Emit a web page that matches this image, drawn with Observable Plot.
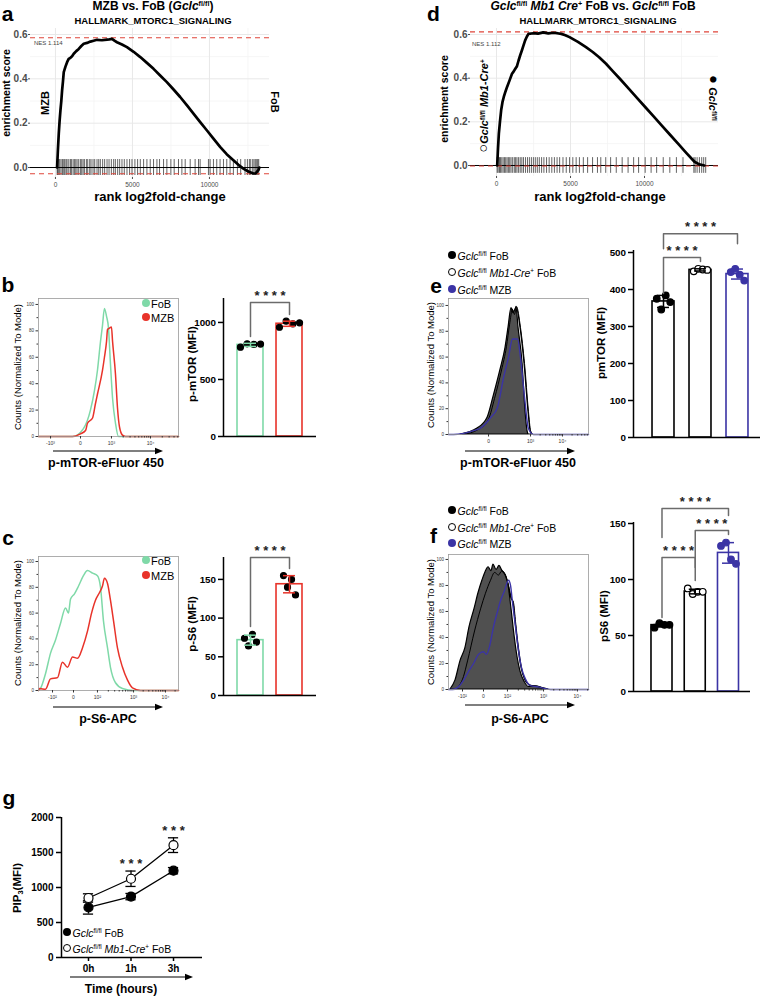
<!DOCTYPE html>
<html>
<head>
<meta charset="utf-8">
<script src="https://cdn.jsdelivr.net/npm/d3@7"></script>
<script src="https://cdn.jsdelivr.net/npm/@observablehq/plot@0.6"></script>
<style>
html,body{margin:0;padding:0;background:#fff;}
#fig{position:relative;width:763px;height:996px;overflow:hidden;background:#fff;font-family:"Liberation Sans",Arial,Helvetica,sans-serif;}
.t{position:absolute;white-space:nowrap;line-height:1;color:#000;}
.t sup{font-size:0.6em;vertical-align:baseline;position:relative;top:-0.5em;line-height:0;}
.t sub{font-size:0.65em;vertical-align:baseline;position:relative;top:0.3em;line-height:0;}
.t .big{font-size:1.35em;line-height:0;font-weight:400;}
.sw{position:absolute;border-radius:50%;box-sizing:border-box;}
svg.pl{position:absolute;overflow:visible;}
</style>
</head>
<body>
<div id="fig"></div>
<script>
// ================= DATA =================
// Panel a : GSEA MZB vs FoB
const gseaA_rank = [108,160,216,270,324,380,432,490,540,650,756,860,972,1080,1188,1350,1512,1680,1836,2050,2268,2480,2700,3020,3348,3500,3672,3830,3996,4320,4644,5076,5508,5940,6371,6800,7235,7670,8099,8530,8963,9400,9827,10260,10691,11120,11555,11880,12203,12530,12851,13000,13175,13240];
const gseaA_es   = [0,0.08,0.153,0.21,0.258,0.3,0.348,0.39,0.43,0.455,0.475,0.49,0.495,0.502,0.513,0.525,0.535,0.548,0.558,0.562,0.568,0.572,0.576,0.574,0.577,0.578,0.58,0.572,0.565,0.555,0.543,0.522,0.498,0.472,0.445,0.415,0.385,0.352,0.318,0.281,0.243,0.205,0.168,0.13,0.093,0.06,0.033,0.012,-0.005,-0.018,-0.027,-0.026,-0.012,0];
const gseaA_hits = [110,150,215,280,365,455,540,605,690,755,865,970,1035,1145,1230,1320,1405,1510,1620,1705,1795,1880,2010,2095,2225,2310,2440,2550,2700,2810,2915,3065,3195,3350,3480,3630,3780,3890,4040,4170,4320,4470,4645,4815,4970,5160,5335,5510,5725,5940,6155,6370,6590,6760,7020,7235,7495,7710,7990,8210,8425,8750,9070,9290,9395,9935,10045,10260,10475,10690,10910,11125,11340,11555,11815,12030,12310,12465,12595,12680,12810,12895,12980,13070,13135,13200];
const gseaA_esMax = 0.585, gseaA_esMin = -0.028, gseaA_nes = "NES 1.114";
// Panel d : GSEA Mb1-Cre FoB vs FoB
const gseaD_rank = [44,100,156,230,311,400,489,600,711,880,1044,1150,1267,1380,1489,1600,1711,1822,1933,2045,2156,2489,2800,3156,3500,3822,4100,4378,4650,4933,5500,6044,6500,6933,7400,7822,8380,8933,9490,10044,10600,11156,11710,12267,12820,13378,13700,14044];
const gseaD_es   = [0,0.08,0.146,0.2,0.253,0.29,0.314,0.338,0.36,0.39,0.42,0.43,0.443,0.455,0.481,0.505,0.527,0.55,0.573,0.59,0.603,0.606,0.604,0.61,0.605,0.608,0.606,0.603,0.597,0.588,0.566,0.542,0.52,0.496,0.466,0.435,0.394,0.352,0.31,0.268,0.226,0.184,0.142,0.1,0.058,0.017,0.005,0];
const gseaD_hits = [44,110,200,265,355,445,535,620,710,800,890,980,1090,1200,1290,1380,1490,1600,1710,1820,1955,2090,2220,2355,2490,2620,2755,2890,3045,3200,3380,3555,3735,3910,4090,4265,4490,4710,4935,5155,5380,5600,5865,6155,6490,6820,7045,7380,7710,8090,8490,8890,9265,9600,10045,10445,10820,11265,11710,12155,12600,13335,13420,13555,13710,13865,14000,14135];
const gseaD_esMax = 0.612, gseaD_esMin = -0.002, gseaD_nes = "NES 1.112";
const gseaXTicks = [0, 5000, 10000];
const gseaYTicks = [0, 0.2, 0.4, 0.6];

// Histograms (x = display channel 0..1000, y = % of mode)
const histB_FoB_ch = [0,243,321,371,400,421,443,457,471,486,500,514,529,550,571,1000];
const histB_FoB    = [0,0,6,20,35,50,72,84,97,91,82,55,29,10,0,0];
const histB_MZB_ch = [0,243,300,336,350,386,407,421,457,471,486,493,507,521,529,550,564,579,600,621,1000];
const histB_MZB    = [0,0,2,4.5,10,14,25,32,50,60,72,81,82,83,72,47,22,7,1,0,0];
const histB_ticks  = [86,300,521,800];
const histB_labels = ["-10³","0","10³","10⁴"];

const histC_FoB_ch = [0,14,50,86,121,157,193,214,229,257,286,321,350,386,421,443,464,493,514,550,600,679,1000];
const histC_FoB    = [0,1.5,13,29,39,52,64,60,71,75,81,89,93,91,89,80,54,33,18,6,1.5,0,0];
const histC_MZB_ch = [0,7,50,86,136,171,207,243,279,314,350,379,407,436,457,471,493,514,536,564,600,636,671,729,1000];
const histC_MZB    = [0,1.5,1,9,10,22,18,26,25,33,46,60,70,76,81,87,83,70,54,33,18,8,2,0,0];
const histC_ticks  = [100,250,421,679,907];
const histC_labels = ["-10²","0","10²","10³","10⁴"];

const histE_FoB_ch = [86,207,279,321,371,407,429,450,464,486,500,529,550,564,571];
const histE_FoB    = [0,4.6,13,29,50,67,83,98,94,98,83,55,18,3,0];
const histE_Mb1_ch = [100,214,286,329,379,414,436,457,471,486,514,543,571,586,600];
const histE_Mb1    = [0,4,12,28,50,68,85,97,93,99,83,55,18,3,0];
const histE_MZB_ch = [0,36,179,229,300,350,393,429,457,493,514,543,571,607,1000];
const histE_MZB    = [0,0,3,5,13,21,44,60,74,74,60,29,4.6,0,0];
const histE_ticks  = [286,586,814];
const histE_labels = ["0","10³","10⁴"];

const histF_FoB_ch = [14,50,86,121,150,186,214,243,264,286,307,321,343,364,386,407,429,450,471,493,514,543,571,621,671,714];
const histF_FoB    = [0,7,22,32,48,62,74,84,90,94,91,96,92,95,91,88,80,62,42,25,14,6,2,2.5,1,0];
const histF_Mb1_ch = [50,107,136,186,229,264,300,329,357,379,407,429,450,464,479,500,521,550,586,643,693];
const histF_Mb1    = [0,10,22,45,62,74,84,90,88,91,88,80,70,67,52,32,17,7,3,2,0];
const histF_MZB_ch = [0,29,71,107,143,179,214,250,271,293,321,350,371,400,429,443,457,479,500,521,550,586,643,729,1000];
const histF_MZB    = [0,0,2,7,14,20,27,29,27,33,48,60,68,76,84,80,67,48,30,17,8,3,2,0,0];
const histF_ticks  = [100,250,421,679,921];
const histF_labels = ["-10²","0","10²","10³","10⁴"];

// Bar charts (MFI per mouse)
const pmtorB_FoB = [783,813,807,810];
const pmtorB_MZB = [958,1011,988,997];
const ps6C_FoB   = [74,64,79,69];
const ps6C_MZB   = [155,140,150,130];
const pmtorE_FoB = [375,346,384,366];
const pmtorE_Mb1 = [449,456,454,453];
const pmtorE_MZB = [447,456,440,424];
const ps6F_FoB   = [57,61,59.5,59.5];
const ps6F_Mb1   = [92,87,89,89];
const ps6F_MZB   = [130,133,118,114];

// Panel g : PIP3 time course
const gTimes    = ["0h","1h","3h"];
const pip3_FoB  = [715,870,1240];
const pip3_FoB_sd = [95,45,45];
const pip3_Mb1  = [850,1125,1605];
const pip3_Mb1_sd = [60,110,105];

// ================= STYLE / HELPERS =================
const FONT = '"Liberation Sans", Arial, Helvetica, sans-serif';
const GREEN = "#7fd9a8", RED = "#e8332a", BLUE = "#3b34a5", GRAY = "#505050", DASH = "#e0453a";
const fig = document.getElementById("fig");
const G = '<i>Gclc</i><sup>fl/fl</sup>';

function place(svg, left, top){ svg.classList.add("pl"); svg.style.left = left+"px"; svg.style.top = top+"px"; fig.appendChild(svg); return svg; }
function T(html, x, y, o = {}){
  const d = document.createElement("div"); d.className = "t"; d.innerHTML = html;
  d.style.fontSize = (o.size || 10) + "px";
  d.style.fontWeight = (o.weight != null ? o.weight : 700);
  if (o.color) d.style.color = o.color;
  const ax = o.anchor === "start" ? "0%" : o.anchor === "end" ? "-100%" : "-50%";
  d.style.left = x + "px"; d.style.top = y + "px";
  d.style.transform = `translate(${ax},-50%) rotate(${o.rot || 0}deg)`;
  fig.appendChild(d); return d;
}
function swatch(cx, cy, r, fill, stroke){
  const d = document.createElement("div"); d.className = "sw";
  d.style.left = (cx-r)+"px"; d.style.top = (cy-r)+"px"; d.style.width = 2*r+"px"; d.style.height = 2*r+"px";
  d.style.background = fill; if (stroke) d.style.border = `1.3px solid ${stroke}`;
  fig.appendChild(d);
}
function arrow(x1, x2, y){
  const ns = "http://www.w3.org/2000/svg"; const s = document.createElementNS(ns, "svg");
  const w = x2 - x1; s.setAttribute("width", w+2); s.setAttribute("height", 8);
  s.style.position = "absolute"; s.style.left = x1+"px"; s.style.top = (y-4)+"px";
  s.innerHTML = `<line x1="0" y1="4" x2="${w-6}" y2="4" stroke="#000" stroke-width="1.1"/><path d="M${w-8},0.8 L${w},4 L${w-8},7.2 Z" fill="#000"/>`;
  fig.appendChild(s);
}
const baseStyle = {fontFamily: FONT, background: "transparent", overflow: "visible", color: "#000"};

// ================= GSEA =================
function gsea({left, rank, es, hits, esMax, esMin, xDomain, yDomain, mR, mB}){
  const curve = rank.map((r, i) => ({r, es: es[i]}));
  place(Plot.plot({
    width: 290, height: 205, marginLeft: 30, marginRight: mR, marginTop: 28, marginBottom: mB,
    style: baseStyle,
    x: {domain: xDomain}, y: {domain: yDomain},
    marks: [
      Plot.gridX([2500, 7500, 12500], {stroke: "#f4f4f4", strokeOpacity: 1, strokeWidth: 0.8}),
      Plot.gridY([0.1, 0.3, 0.5], {stroke: "#f4f4f4", strokeOpacity: 1, strokeWidth: 0.8}),
      Plot.gridX(gseaXTicks, {stroke: "#e8e8e8", strokeOpacity: 1, strokeWidth: 1}),
      Plot.gridY(gseaYTicks, {stroke: "#e8e8e8", strokeOpacity: 1, strokeWidth: 1}),
      Plot.ruleX(hits, {x: d => d, y1: -0.036, y2: 0.036, stroke: "#000", strokeOpacity: 0.68, strokeWidth: 0.9}),
      Plot.ruleY([0], {stroke: "#000", strokeWidth: 1}),
      Plot.ruleY([esMax, esMin], {stroke: DASH, strokeWidth: 1.1, strokeDasharray: "5,4"}),
      Plot.line(curve, {x: "r", y: "es", stroke: "#000", strokeWidth: 2.7, strokeLinejoin: "round"}),
      Plot.axisX(gseaXTicks, {tickFormat: "d", tickSize: 2, tickPadding: 3, fontSize: 6.5, color: "#4d4d4d", label: null}),
      Plot.axisY(gseaYTicks, {tickFormat: ".1f", tickSize: 2, tickPadding: 1, fontSize: 10, fontWeight: "bold", color: "#4d4d4d", label: null})
    ]
  }), left, 0);
}
gsea({left: 0, rank: gseaA_rank, es: gseaA_es, hits: gseaA_hits, esMax: gseaA_esMax, esMin: gseaA_esMin,
      xDomain: [-1620, 13900], yDomain: [-0.045, 0.627], mR: 21, mB: 28});
gsea({left: 440, rank: gseaD_rank, es: gseaD_es, hits: gseaD_hits, esMax: gseaD_esMax, esMin: gseaD_esMin,
      xDomain: [-1760, 15000], yDomain: [-0.0504, 0.6276], mR: 12, mB: 29});

// ================= HISTOGRAMS =================
function minorTicks(pos, labels){
  const out = [];
  const isPos = s => /^10/.test(s);
  for (let i = 0; i < pos.length - 1; i++) {
    if (isPos(labels[i]) && isPos(labels[i+1])) for (let k = 2; k < 10; k++) out.push(pos[i] + Math.log10(k) * (pos[i+1] - pos[i]));
  }
  const n = pos.length;
  if (n >= 2 && isPos(labels[n-1]) && isPos(labels[n-2])) {
    const w = pos[n-1] - pos[n-2];
    for (let k = 2; k < 10; k++) { const p = pos[n-1] + Math.log10(k) * w; if (p < 1000) out.push(p); }
  }
  return out;
}
function hist({left, top, height, mT, mB, yMax, ticks, labels, layers}){
  const lab = new Map(ticks.map((t, i) => [t, labels[i]]));
  const marks = [];
  for (const L of layers) {
    const data = L.ch.map((c, i) => ({c, v: L.v[i]}));
    if (L.fill) marks.push(Plot.areaY(data, {x: "c", y: "v", fill: L.fill, stroke: L.stroke, strokeWidth: L.sw || 1.3, curve: "monotone-x"}));
    else marks.push(Plot.line(data, {x: "c", y: "v", stroke: L.stroke, strokeWidth: L.sw || 1.5, curve: "monotone-x"}));
  }
  marks.push(Plot.frame({stroke: "#9a9a9a", strokeWidth: 0.8}));
  marks.push(Plot.axisY([0,20,40,60,80,100], {tickSize: 2.5, tickPadding: 2, fontSize: 4.5, color: "#333", label: null}));
  marks.push(Plot.axisY([10,30,50,70,90], {tickSize: 1.5, tickFormat: () => "", color: "#333", label: null}));
  marks.push(Plot.axisX(ticks, {tickFormat: d => lab.get(d), tickSize: 2.5, tickPadding: 2, fontSize: 5, color: "#333", label: null}));
  marks.push(Plot.axisX(minorTicks(ticks, labels), {tickSize: 1.5, tickFormat: () => "", color: "#333", label: null}));
  place(Plot.plot({width: 185, height, marginLeft: 38, marginRight: 7, marginTop: mT, marginBottom: mB,
    x: {domain: [0, 1000]}, y: {domain: [0, yMax]}, style: baseStyle, marks}), left, top);
}
hist({left: 0, top: 290, height: 160, mT: 8, mB: 14, yMax: 104.5, ticks: histB_ticks, labels: histB_labels, layers: [
  {ch: histB_FoB_ch, v: histB_FoB, stroke: GREEN},
  {ch: histB_MZB_ch, v: histB_MZB, stroke: RED}
]});
hist({left: 0, top: 546, height: 158, mT: 10, mB: 14, yMax: 103.9, ticks: histC_ticks, labels: histC_labels, layers: [
  {ch: histC_FoB_ch, v: histC_FoB, stroke: GREEN},
  {ch: histC_MZB_ch, v: histC_MZB, stroke: RED}
]});
hist({left: 410, top: 290, height: 158, mT: 8, mB: 14, yMax: 105.4, ticks: histE_ticks, labels: histE_labels, layers: [
  {ch: histE_Mb1_ch, v: histE_Mb1, fill: "#fff", stroke: "#000", sw: 1.2},
  {ch: histE_FoB_ch, v: histE_FoB, fill: GRAY, stroke: "#000", sw: 1.2},
  {ch: histE_Mb1_ch, v: histE_Mb1, stroke: "#000", sw: 1},
  {ch: histE_MZB_ch, v: histE_MZB, stroke: BLUE, sw: 1.4}
]});
hist({left: 410, top: 546, height: 157, mT: 8, mB: 14, yMax: 103.8, ticks: histF_ticks, labels: histF_labels, layers: [
  {ch: histF_Mb1_ch, v: histF_Mb1, fill: "#fff", stroke: "#000", sw: 1.2},
  {ch: histF_FoB_ch, v: histF_FoB, fill: GRAY, stroke: "#000", sw: 1.2},
  {ch: histF_Mb1_ch, v: histF_Mb1, stroke: "#000", sw: 1},
  {ch: histF_MZB_ch, v: histF_MZB, stroke: BLUE, sw: 1.4}
]});

// ================= BAR CHARTS =================
function bars({left, top, width, height, mL, mR, mT, mB, yMax, yTicks, xDomain, step, halfW, groups, spread, brackets, r = 3}){
  const k = (height - mT - mB) / yMax;
  const cap = 6 / step;
  const marks = [];
  groups.forEach((g, i) => {
    const m = d3.mean(g.vals), s = d3.deviation(g.vals), n = g.vals.length;
    marks.push(Plot.rect([g], {x1: () => i - halfW, x2: () => i + halfW, y1: () => 0, y2: () => m, fill: "#fff", stroke: g.color, strokeWidth: 1.6}));
    marks.push(Plot.dot(g.vals.map((v, j) => ({v, j})), {x: d => i + (d.j - (n-1)/2) * spread / step, y: "v", r, fill: g.dotFill, stroke: g.dotStroke || g.dotFill, strokeWidth: 1.2}));
    marks.push(Plot.ruleX([g], {x: () => i, y1: () => m - s, y2: () => m + s, stroke: g.color, strokeWidth: 1.5}));
    marks.push(Plot.ruleY([m - s, m + s], {y: d => d, x1: () => i - cap, x2: () => i + cap, stroke: g.color, strokeWidth: 1.5}));
  });
  for (const b of brackets) {
    const maxV = d3.max(groups.slice(b.a, b.b + 1).flatMap(g => g.vals));
    const topV = maxV + b.lift / k;
    const pts = [{x: b.a, y: topV - b.dl / k}, {x: b.a, y: topV}, {x: b.b, y: topV}, {x: b.b, y: topV - b.dr / k}];
    marks.push(Plot.line(pts, {x: "x", y: "y", stroke: "#6b6b6b", strokeWidth: 1.5}));
    marks.push(Plot.text([b], {x: () => (b.a + b.b) / 2, y: () => topV, text: () => b.text, dy: -7, fontSize: 13, fontWeight: "bold", fill: "#222"}));
  }
  marks.push(Plot.ruleY([0], {stroke: "#000", strokeWidth: 1.5}));
  marks.push(Plot.ruleX([xDomain[0]], {x: d => d, y1: () => 0, y2: () => yMax, stroke: "#000", strokeWidth: 1.5}));
  marks.push(Plot.axisY(yTicks, {tickFormat: "d", tickSize: 5, tickPadding: 2.5, fontSize: 9.8, fontWeight: "bold", strokeWidth: 1.5, label: null}));
  place(Plot.plot({width, height, marginLeft: mL, marginRight: mR, marginTop: mT, marginBottom: mB,
    x: {domain: xDomain, axis: null}, y: {domain: [0, yMax], axis: null}, style: baseStyle, marks}), left, top);
}
const S4 = "* * * *";
bars({left: 170, top: 280, width: 160, height: 170, mL: 53, mR: 14, mT: 18, mB: 14, yMax: 1210, yTicks: [0, 500, 1000],
  xDomain: [-0.692, 1.692], step: 39, halfW: 0.333, spread: 6.7,
  groups: [{vals: pmtorB_FoB, color: GREEN, dotFill: "#000"}, {vals: pmtorB_MZB, color: RED, dotFill: "#000"}],
  brackets: [{a: 0, b: 1, lift: 18.7, dl: 34, dr: 12, text: S4}]});
bars({left: 170, top: 546, width: 160, height: 160, mL: 53, mR: 14, mT: 11, mB: 11, yMax: 178.3, yTicks: [0, 50, 100, 150],
  xDomain: [-0.692, 1.692], step: 39, halfW: 0.333, spread: 4,
  groups: [{vals: ps6C_FoB, color: GREEN, dotFill: "#000"}, {vals: ps6C_MZB, color: RED, dotFill: "#000"}],
  brackets: [{a: 0, b: 1, lift: 18, dl: 69, dr: 11, text: S4}]});
bars({left: 580, top: 205, width: 183, height: 245, mL: 53, mR: 3, mT: 45, mB: 13, yMax: 505.4, yTicks: [0, 100, 200, 300, 400, 500],
  xDomain: [-0.811, 2.622], step: 37, halfW: 0.297, spread: 4.5, r: 3.3,
  groups: [{vals: pmtorE_FoB, color: "#000", dotFill: "#000"}, {vals: pmtorE_Mb1, color: "#000", dotFill: "#fff", dotStroke: "#000"}, {vals: pmtorE_MZB, color: BLUE, dotFill: BLUE}],
  brackets: [{a: 0, b: 1, lift: 11.3, dl: 36, dr: 4, text: S4}, {a: 0, b: 2, lift: 35, dl: 15, dr: 10, text: S4}]});
bars({left: 580, top: 490, width: 183, height: 213, mL: 53, mR: 13, mT: 32, mB: 12, yMax: 150.9, yTicks: [0, 50, 100, 150],
  xDomain: [-0.857, 2.662], step: 33.25, halfW: 0.316, spread: 5, r: 3.3,
  groups: [{vals: ps6F_FoB, color: "#000", dotFill: "#000"}, {vals: ps6F_Mb1, color: "#000", dotFill: "#fff", dotStroke: "#000"}, {vals: ps6F_MZB, color: BLUE, dotFill: BLUE}],
  brackets: [{a: 0, b: 1, lift: 31, dl: 60, dr: 10, text: S4}, {a: 1, b: 2, lift: 12, dl: 50, dr: 4, text: S4}, {a: 0, b: 2, lift: 34, dl: 29, dr: 7, text: S4}]});

// ================= PANEL g =================
(function(){
  const fob = gTimes.map((t, i) => ({i, v: pip3_FoB[i], sd: pip3_FoB_sd[i]}));
  const mb1 = gTimes.map((t, i) => ({i, v: pip3_Mb1[i], sd: pip3_Mb1_sd[i]}));
  const xD = [-0.635, 2.682], cap = 0.12;
  const errMarks = data => [
    Plot.ruleX(data, {x: "i", y1: d => d.v - d.sd, y2: d => d.v + d.sd, stroke: "#000", strokeWidth: 1.3}),
    Plot.ruleY(data, {y: d => d.v + d.sd, x1: d => d.i - cap, x2: d => d.i + cap, stroke: "#000", strokeWidth: 1.3}),
    Plot.ruleY(data, {y: d => d.v - d.sd, x1: d => d.i - cap, x2: d => d.i + cap, stroke: "#000", strokeWidth: 1.3})
  ];
  const starData = [1, 2].map(i => ({i, top: Math.max(pip3_FoB[i] + pip3_FoB_sd[i], pip3_Mb1[i] + pip3_Mb1_sd[i])}));
  place(Plot.plot({
    width: 230, height: 190, marginLeft: 61, marginRight: 28, marginTop: 17, marginBottom: 33,
    x: {domain: xD, axis: null}, y: {domain: [0, 2000], axis: null}, style: baseStyle,
    marks: [
      Plot.line(fob, {x: "i", y: "v", stroke: "#000", strokeWidth: 1.3}),
      Plot.line(mb1, {x: "i", y: "v", stroke: "#000", strokeWidth: 1.3}),
      ...errMarks(fob), ...errMarks(mb1),
      Plot.dot(fob, {x: "i", y: "v", r: 4.5, fill: "#000", stroke: "#000", strokeWidth: 1.2}),
      Plot.dot(mb1, {x: "i", y: "v", r: 4.5, fill: "#fff", stroke: "#000", strokeWidth: 1.2}),
      Plot.text(starData, {x: "i", y: "top", text: () => "* * *", dy: -7, fontSize: 13, fontWeight: "bold", fill: "#222"}),
      Plot.ruleY([0], {stroke: "#000", strokeWidth: 1.5}),
      Plot.ruleX([xD[0]], {x: d => d, y1: () => 0, y2: () => 2000, stroke: "#000", strokeWidth: 1.5}),
      Plot.axisY([0, 500, 1000, 1500, 2000], {tickFormat: "d", tickSize: 5, tickPadding: 3, fontSize: 10, fontWeight: "bold", strokeWidth: 1.5, label: null}),
      Plot.axisX([0, 1, 2], {tickFormat: i => gTimes[i], tickSize: 4, tickPadding: 3, fontSize: 10, fontWeight: "bold", strokeWidth: 1.5, label: null})
    ]
  }), 0, 800);
})();

// ================= TEXT / LEGENDS =================
// panel letters
T("a", 7.5, 13.4, {size: 21}); T("d", 433.5, 13.4, {size: 21});
T("b", 8, 284.4, {size: 21}); T("c", 8, 537.4, {size: 21});
T("e", 436, 285.4, {size: 21}); T("f", 433.5, 535.4, {size: 21});
T("g", 9, 797.4, {size: 21});
// GSEA a
T(`MZB vs. FoB (${G})`, 153, 5.5, {size: 12});
T("HALLMARK_MTORC1_SIGNALING", 153, 20.7, {size: 9.5});
T(gseaA_nes, 34, 43, {size: 6, weight: 400, color: "#444", anchor: "start"});
T("enrichment score", 5.5, 93, {size: 10.5, rot: -90});
T("MZB", 45, 103, {size: 11, rot: -90});
T("FoB", 273.5, 101.5, {size: 11, rot: 90});
T("rank log2fold-change", 160, 195.5, {size: 13});
// GSEA d
T(`${G} <i>Mb1 Cre</i><sup>+</sup> FoB vs. ${G} FoB`, 593, 5.5, {size: 12});
T("HALLMARK_MTORC1_SIGNALING", 598, 20.7, {size: 9.5});
T(gseaD_nes, 472, 43.5, {size: 6, weight: 400, color: "#444", anchor: "start"});
T("enrichment score", 443.5, 99, {size: 10.5, rot: -90});
T(`<span class="big">○</span>${G} <i>Mb1-Cre</i><sup>+</sup>`, 484, 106, {size: 11, rot: -90});
T(`<span class="big">●</span> ${G}`, 712, 98, {size: 11, rot: 90});
T("rank log2fold-change", 600, 195.5, {size: 13});
// histogram labels
const CNT = "Counts (Normalized To Mode)";
T(CNT, 18, 367, {size: 9.5, weight: 400, rot: -90}); T(CNT, 18, 623, {size: 9.5, weight: 400, rot: -90});
T(CNT, 431, 365, {size: 9.5, weight: 400, rot: -90}); T(CNT, 431, 622, {size: 9.5, weight: 400, rot: -90});
T("p-mTOR-eFluor 450", 106, 463, {size: 12.5}); T("p-mTOR-eFluor 450", 518, 463, {size: 12.5});
T("p-S6-APC", 108, 719, {size: 12.5}); T("p-S6-APC", 520, 719, {size: 12.5});
arrow(53, 163, 451); arrow(465, 575, 451); arrow(53, 163, 707); arrow(465, 575, 705);
// bar y labels
T("p-mTOR (MFI)", 193, 364, {size: 11.5, rot: -90});
T("p-S6 (MFI)", 193, 624, {size: 11.5, rot: -90});
T("pmTOR (MFI)", 602, 343, {size: 11.5, rot: -90});
T("pS6 (MFI)", 605, 616, {size: 11.5, rot: -90});
T("PIP<sub>3</sub>(MFI)", 18, 888, {size: 11.5, rot: -90});
T("Time (hours)", 121, 989, {size: 12});
arrow(70, 193, 977);
// legends b, c
swatch(146, 303, 4.2, GREEN); T("FoB", 151, 303.5, {size: 11, weight: 400, anchor: "start"});
swatch(146, 317, 4.2, RED);   T("MZB", 151, 317.5, {size: 11, weight: 400, anchor: "start"});
swatch(146, 560, 4.2, GREEN); T("FoB", 151, 560.5, {size: 11, weight: 400, anchor: "start"});
swatch(146, 575, 4.2, RED);   T("MZB", 151, 575.5, {size: 11, weight: 400, anchor: "start"});
// legends e, f, g
function legend3(x, ys){
  swatch(x, ys[0], 4.2, "#000"); T(`${G} FoB`, x + 5.8, ys[0] + 0.5, {size: 10.5, weight: 400, anchor: "start"});
  swatch(x, ys[1], 4, "#fff", "#000"); T(`${G} <i>Mb1-Cre</i><sup>+</sup> FoB`, x + 5.8, ys[1] + 0.5, {size: 10.5, weight: 400, anchor: "start"});
  if (ys[2] != null) { swatch(x, ys[2], 4.2, BLUE); T(`${G} MZB`, x + 5.8, ys[2] + 0.5, {size: 10.5, weight: 400, anchor: "start"}); }
}
legend3(451.7, [255, 272, 289]);
legend3(451.7, [510, 527, 543]);
legend3(66.7, [932, 948]);
</script>
</body>
</html>
